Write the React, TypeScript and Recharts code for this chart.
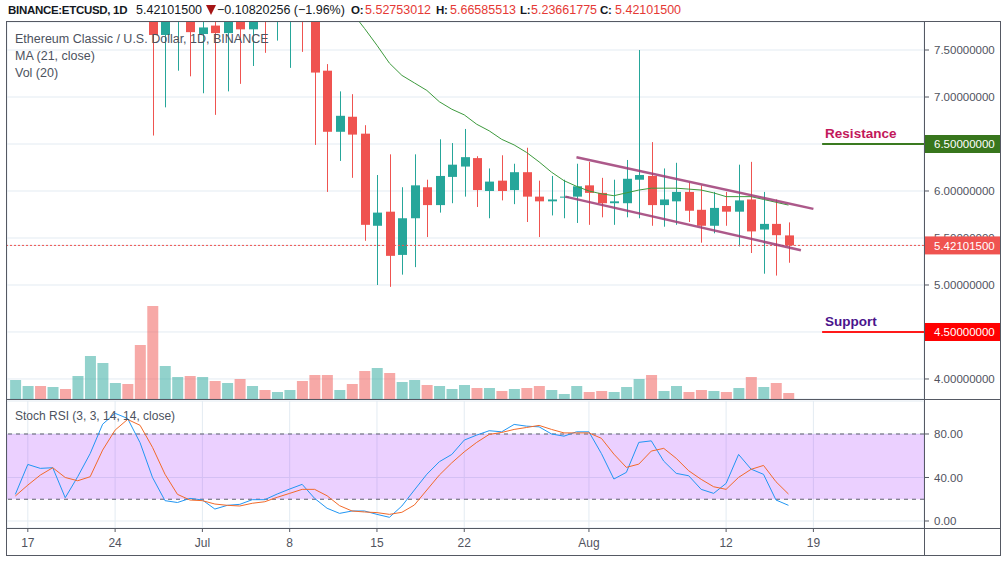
import React from 'react'
import { ComposedChart, Bar, Line, XAxis, YAxis, CartesianGrid, ReferenceLine, ReferenceArea, Cell } from 'recharts'

const FONT = "'Liberation Sans', Arial, sans-serif"
const FRAME = '#555963'
const GRID = '#e3ebf2'
const UP = '#26a69a'
const DOWN = '#ef5350'

// daily candles, Jun 16 .. Aug 17 2019
const dates = [
  'Jun 16', 'Jun 17', 'Jun 18', 'Jun 19', 'Jun 20', 'Jun 21', 'Jun 22', 'Jun 23', 'Jun 24', 'Jun 25', 'Jun 26', 'Jun 27', 'Jun 28', 'Jun 29', 'Jun 30',
  'Jul 1', 'Jul 2', 'Jul 3', 'Jul 4', 'Jul 5', 'Jul 6', 'Jul 7', 'Jul 8', 'Jul 9', 'Jul 10', 'Jul 11', 'Jul 12', 'Jul 13', 'Jul 14', 'Jul 15', 'Jul 16',
  'Jul 17', 'Jul 18', 'Jul 19', 'Jul 20', 'Jul 21', 'Jul 22', 'Jul 23', 'Jul 24', 'Jul 25', 'Jul 26', 'Jul 27', 'Jul 28', 'Jul 29', 'Jul 30', 'Jul 31',
  'Aug 1', 'Aug 2', 'Aug 3', 'Aug 4', 'Aug 5', 'Aug 6', 'Aug 7', 'Aug 8', 'Aug 9', 'Aug 10', 'Aug 11', 'Aug 12', 'Aug 13', 'Aug 14', 'Aug 15', 'Aug 16', 'Aug 17',
]

const opens = [
  8.20, 8.45, 8.65, 8.50, 8.75, 8.60, 9.00, 9.45, 9.60, 9.65, 9.30, 8.60, 7.66, 8.25, 8.40,
  7.67, 7.76, 7.68, 8.10, 7.72, 8.15, 7.95, 8.15, 8.30, 8.00, 7.28, 6.63, 6.79, 6.61, 5.63, 5.78,
  5.32, 5.71, 6.04, 5.85, 6.15, 6.26, 6.35, 6.00, 6.11, 6.01, 6.20, 5.94, 5.89, 5.93, 5.94,
  6.06, 5.98, 5.87, 5.87, 6.12, 6.16, 5.85, 5.89, 5.99, 5.80, 5.63, 5.84, 5.78, 5.91, 5.59, 5.65, 5.52753012,
]
const highs = [
  8.70, 8.80, 8.75, 8.90, 8.85, 9.10, 9.70, 9.90, 9.80, 9.75, 9.50, 8.90, 8.50, 8.70, 8.60,
  8.05, 8.00, 8.30, 8.25, 8.20, 8.35, 8.30, 8.45, 8.40, 8.10, 7.35, 7.06, 7.03, 6.70, 6.17, 6.39,
  6.04, 6.39, 6.12, 6.55, 6.51, 6.66, 6.37, 6.24, 6.38, 6.29, 6.46, 6.11, 6.16, 6.12, 6.29,
  6.31, 6.14, 6.12, 6.33, 7.50, 6.52, 6.24, 6.30, 6.09, 6.06, 5.99, 5.99, 6.28, 6.31, 5.99, 5.91, 5.66585513,
]
const lows = [
  8.00, 8.30, 8.35, 8.40, 8.45, 8.50, 8.90, 9.20, 9.30, 9.10, 8.20, 6.59, 6.89, 7.28, 7.22,
  7.04, 6.81, 7.06, 7.14, 7.33, 7.47, 7.60, 7.31, 7.48, 6.49, 5.99, 6.32, 6.14, 5.47, 5.00, 4.98,
  5.11, 5.19, 5.51, 5.77, 5.87, 5.94, 5.83, 5.71, 5.90, 5.86, 5.67, 5.51, 5.74, 5.71, 5.66,
  5.64, 5.72, 5.64, 5.72, 5.71, 5.63, 5.62, 5.64, 5.67, 5.45, 5.55, 5.63, 5.41, 5.34, 5.12, 5.10, 5.23661775,
]
const closes = [
  8.45, 8.65, 8.50, 8.75, 8.60, 9.00, 9.45, 9.60, 9.65, 9.30, 8.60, 7.66, 8.25, 8.40, 7.69,
  7.74, 7.68, 8.10, 7.72, 8.00, 7.95, 8.15, 8.30, 8.00, 7.26, 6.63, 6.80, 6.60, 5.64, 5.77, 5.31,
  5.71, 6.06, 5.85, 6.16, 6.28, 6.36, 6.01, 6.10, 6.00, 6.20, 5.94, 5.89, 5.91, 5.94, 6.05,
  5.98, 5.87, 5.89, 6.13, 6.17, 5.85, 5.91, 5.99, 5.79, 5.63, 5.82, 5.78, 5.90, 5.57, 5.65, 5.53, 5.421015,
]
// volume, thousand ETC
const volumes = [
  190, 130, 130, 120, 100, 230, 430, 360, 160, 150, 540, 930, 330, 220, 230,
  220, 180, 160, 200, 130, 90, 70, 90, 180, 240, 240, 90, 150, 280, 310, 260,
  170, 190, 140, 130, 100, 140, 110, 110, 80, 100, 110, 130, 90, 50, 130,
  70, 80, 70, 120, 200, 240, 80, 130, 70, 90, 80, 70, 110, 220, 120, 160, 60,
]
// MA (21, close)
const ma21 = [
  7.90, 7.95, 8.00, 8.05, 8.10, 8.15, 8.20, 8.27, 8.33, 8.40, 8.45, 8.48, 8.50, 8.52, 8.54,
  8.55, 8.55, 8.54, 8.52, 8.50, 8.47, 8.43, 8.38, 8.33, 8.27, 8.19, 8.08, 7.90, 7.73, 7.55, 7.36,
  7.23, 7.15, 7.07, 6.95, 6.87, 6.81, 6.71, 6.64, 6.55, 6.49, 6.41, 6.31, 6.20, 6.11, 6.05,
  6.00, 5.97, 5.95, 5.98, 6.01, 6.03, 6.03, 6.03, 6.02, 6.01, 5.98, 5.94, 5.94, 5.94, 5.91, 5.88, 5.85,
]
// Stoch RSI (3, 3, 14, 14, close)
const stochK = [
  24.5, 52, 48.4, 49, 21.4, 40.7, 62, 89, 99, 94.3, 72, 40, 18.7, 17, 20.8,
  19.3, 11, 14.4, 15.3, 19.6, 19.6, 24.8, 29.4, 33.7, 20.8, 11.7, 7, 9.2, 9.2, 6.1, 3.4,
  13.8, 28.5, 43, 54.5, 61.2, 74.4, 79, 83, 82, 88.8, 87.2, 86.6, 80, 78, 82,
  82, 62, 38.6, 44.7, 72.3, 73.7, 55, 43.8, 41.6, 29.1, 25.4, 34.6, 61.2, 47.7, 42.9, 19.3, 14.4,
]
const stochD = [
  23, 33, 42.2, 49, 40, 37, 40.7, 65.2, 83.6, 93.4, 88, 67.7, 43, 24.5, 19.3,
  18.7, 15.6, 14.4, 13.8, 16.3, 17.7, 21.8, 25.4, 29.1, 29.1, 23.2, 14.1, 9.2, 8.3, 7.7, 6.1,
  8, 14.7, 28.5, 42.2, 53.5, 63.6, 72.3, 79.6, 81.4, 84.2, 86, 87.9, 84.2, 81, 81,
  81, 76, 61.5, 49.3, 52.3, 64.3, 66.8, 57.6, 46.2, 38.3, 31.5, 29.1, 40.1, 47.5, 51.1, 36.1, 24.8,
]

// time axis: days counted from Jun 17
const tickDays = [0, 7, 14, 21, 28, 35, 45, 56, 63]
const tickLabels = ['17', '24', 'Jul', '8', '15', '22', 'Aug', '12', '19']
const priceTicks = [4, 4.5, 5, 5.5, 6, 6.5, 7, 7.5]
const lastPrice = 5.421015
const resistance = 6.5
const support = 4.5
const priceTags = [
  { value: resistance, color: '#38761d' },
  { value: support, color: '#ff0000' },
  { value: lastPrice, color: '#ef5350' },
]
const upperChannel = [{ day: 44.0, price: 6.36 }, { day: 63.0, price: 5.81 }]
const lowerChannel = [{ day: 43.1, price: 5.94 }, { day: 62.0, price: 5.37 }]

const X_DOMAIN: [number, number] = [-1.67, 71.87]

const rows = dates.map((date, i) => ({
  date,
  day: i - 1,
  open: opens[i],
  high: highs[i],
  low: lows[i],
  close: closes[i],
  range: [lows[i], highs[i]],
  vol: volumes[i],
  ma: ma21[i],
  k: stochK[i],
  d: stochD[i],
}))

const Candle = (props: any) => {
  const { x, y, width, height, payload } = props
  const { open, close, high, low } = payload
  const color = close >= open ? UP : DOWN
  const top = Math.min(y, y + height)
  const h = Math.abs(height)
  const k = h / (high - low)
  const bTop = top + (high - Math.max(open, close)) * k
  const bBot = top + (high - Math.min(open, close)) * k
  const cx = Math.round(x + width / 2) + 0.5
  return (
    <g>
      <line x1={cx} x2={cx} y1={top} y2={top + h} stroke={color} strokeWidth={1} />
      <rect x={cx - 4.5} y={bTop} width={9} height={Math.max(1, bBot - bTop)} fill={color} />
    </g>
  )
}

const PriceTick = (props: any) => {
  const { x, y, payload } = props
  const tag = priceTags.find((t) => Math.abs(t.value - payload.value) < 1e-9)
  const label = Number(payload.value).toFixed(8)
  if (tag) {
    return (
      <g>
        <rect x={x - 7} y={y - 9} width={76} height={18} fill={tag.color} />
        <text x={x + 3} y={y} dy="0.36em" fill="#fff" fontSize={11.5} fontFamily={FONT}>{label}</text>
      </g>
    )
  }
  return <text x={x + 3} y={y} dy="0.36em" fill="#50535e" fontSize={11.5} fontFamily={FONT}>{label}</text>
}

const StochTick = (props: any) => {
  const { x, y, payload } = props
  return <text x={x + 3} y={y} dy="0.36em" fill="#50535e" fontSize={11.5} fontFamily={FONT}>{Number(payload.value).toFixed(2)}</text>
}

const zoneLabel = (text: string, color: string) => (props: any) => {
  const vb = props.viewBox || {}
  return (
    <text x={vb.x + 3} y={vb.y - 6} fill={color} fontSize={13.5} fontWeight="bold" fontFamily={FONT}>{text}</text>
  )
}

const line = (style: React.CSSProperties) => <div style={{ position: 'absolute', background: FRAME, ...style }} />

const hdr = (left: number, text: string, color = '#131722', bold = false) => (
  <span style={{ position: 'absolute', left, top: 2, fontSize: bold ? 11.5 : 12.5, letterSpacing: bold ? -0.3 : 0, lineHeight: '16px', color, fontWeight: bold ? 'bold' : 'normal', whiteSpace: 'nowrap' }}>{text}</span>
)

export default function App() {
  return (
    <div style={{ position: 'absolute', left: 0, top: 0, width: 1006, height: 570, background: '#fff', fontFamily: FONT, overflow: 'hidden' }}>
      <div style={{ position: 'absolute', left: 0, top: 0 }}>
        <ComposedChart width={1006} height={400} data={rows} margin={{ top: 22, right: 6, bottom: 1, left: 7 }}>
          <CartesianGrid yAxisId="p" stroke={GRID} />
          <XAxis dataKey="day" type="number" domain={X_DOMAIN} allowDataOverflow ticks={tickDays} interval={0} height={0} tick={false} axisLine={false} tickLine={false} />
          <XAxis xAxisId="xv" dataKey="day" type="number" domain={X_DOMAIN} allowDataOverflow hide />
          <YAxis yAxisId="p" orientation="right" width={76} domain={[3.787, 7.798]} allowDataOverflow ticks={[...priceTicks, lastPrice]} interval={0} tick={<PriceTick />} tickSize={5} tickLine={{ stroke: FRAME }} axisLine={false} />
          <YAxis yAxisId="v" domain={[0, 3770]} hide />
          <Bar xAxisId="xv" yAxisId="v" dataKey="vol" barSize={11} isAnimationActive={false}>
            {rows.map((r, i) => (
              <Cell key={i} fill={r.close >= r.open ? UP : DOWN} fillOpacity={0.5} />
            ))}
          </Bar>
          <ReferenceLine yAxisId="p" y={lastPrice} stroke={DOWN} strokeDasharray="2 2" />
          <Line yAxisId="p" dataKey="ma" stroke="#3d9a3d" strokeWidth={1} dot={false} activeDot={false} isAnimationActive={false} />
          <Bar yAxisId="p" dataKey="range" barSize={9} shape={Candle} isAnimationActive={false} />
          <ReferenceLine yAxisId="p" segment={upperChannel.map((p) => ({ x: p.day, y: p.price }))} stroke="#9e3c76" strokeOpacity={0.85} strokeWidth={2.5} />
          <ReferenceLine yAxisId="p" segment={lowerChannel.map((p) => ({ x: p.day, y: p.price }))} stroke="#9e3c76" strokeOpacity={0.85} strokeWidth={2.5} />
          <ReferenceLine yAxisId="p" segment={[{ x: 63.7, y: resistance }, { x: X_DOMAIN[1], y: resistance }]} stroke="#3a7a20" strokeWidth={2} label={zoneLabel('Resistance', '#c2185b')} />
          <ReferenceLine yAxisId="p" segment={[{ x: 63.7, y: support }, { x: X_DOMAIN[1], y: support }]} stroke="#ff1a1a" strokeWidth={2} label={zoneLabel('Support', '#4a148c')} />
        </ComposedChart>
      </div>

      <div style={{ position: 'absolute', left: 0, top: 400 }}>
        <ComposedChart width={1006} height={155} data={rows} margin={{ top: 1, right: 6, bottom: 0, left: 7 }}>
          <CartesianGrid stroke={GRID} />
          <ReferenceArea y1={20} y2={80} fill="#9915ff" fillOpacity={0.2} stroke="none" />
          <ReferenceLine y={80} stroke="#5d606b" strokeDasharray="4 4" />
          <ReferenceLine y={20} stroke="#5d606b" strokeDasharray="4 4" />
          <XAxis dataKey="day" type="number" domain={X_DOMAIN} allowDataOverflow ticks={tickDays} interval={0} height={27}
            tickFormatter={(v: number) => tickLabels[tickDays.indexOf(v)]} tickSize={4} tickMargin={6} axisLine={false}
            tickLine={{ stroke: FRAME }} tick={{ fontSize: 12, fill: '#50535e', fontFamily: FONT }} />
          <YAxis orientation="right" width={76} domain={[-6.44, 110.34]} allowDataOverflow ticks={[0, 40, 80]} interval={0} tick={<StochTick />} tickSize={5} tickLine={{ stroke: FRAME }} axisLine={false} />
          <Line dataKey="k" stroke="#2196f3" strokeWidth={1} dot={false} activeDot={false} isAnimationActive={false} />
          <Line dataKey="d" stroke="#f26a2a" strokeWidth={1} dot={false} activeDot={false} isAnimationActive={false} />
        </ComposedChart>
      </div>

      {/* frame */}
      {line({ left: 6, top: 21, width: 995, height: 1 })}
      {line({ left: 6, top: 21, width: 1, height: 535 })}
      {line({ left: 1000, top: 21, width: 1, height: 535 })}
      {line({ left: 6, top: 555, width: 995, height: 1 })}
      {line({ left: 924, top: 21, width: 1, height: 535 })}
      {line({ left: 6, top: 399, width: 995, height: 1 })}
      {line({ left: 6, top: 528, width: 995, height: 1 })}

      {/* header */}
      {hdr(8, 'BINANCE:ETCUSD, 1D', '#131722', true)}
      {hdr(136, '5.42101500')}
      <svg style={{ position: 'absolute', left: 206, top: 5 }} width={10} height={10}>
        <polygon points="0,0 10,0 5,10" fill="#a51515" />
      </svg>
      {hdr(217, '−0.10820256 (−1.96%)')}
      {hdr(351, 'O:', '#131722', true)}
      {hdr(365, '5.52753012', '#e53935')}
      {hdr(436, 'H:', '#131722', true)}
      {hdr(450, '5.66585513', '#e53935')}
      {hdr(520, 'L:', '#131722', true)}
      {hdr(531, '5.23661775', '#e53935')}
      {hdr(600, 'C:', '#131722', true)}
      {hdr(615, '5.42101500', '#e53935')}

      {/* legends */}
      <div style={{ position: 'absolute', left: 15, top: 31, fontSize: 12.5, lineHeight: '17px', color: '#4c525e' }}>
        <div>Ethereum Classic / U.S. Dollar, 1D, BINANCE</div>
        <div>MA (21, close)</div>
        <div>Vol (20)</div>
      </div>
      <div style={{ position: 'absolute', left: 15, top: 408, fontSize: 12, lineHeight: '17px', color: '#4c525e' }}>
        Stoch RSI (3, 3, 14, 14, close)
      </div>
    </div>
  )
}
